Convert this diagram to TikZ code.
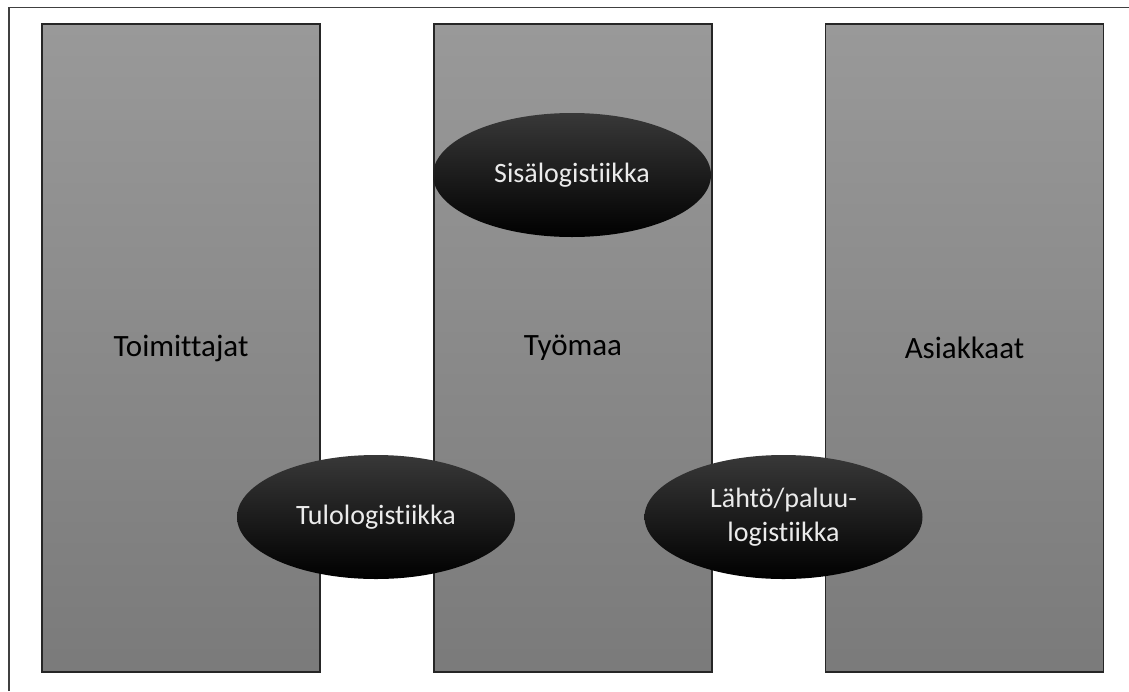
\documentclass[tikz,border=0pt]{standalone}
\usepackage{fontspec}
\setmainfont[Ligatures=NoCommon]{Carlito}
\usetikzlibrary{shapes.geometric}
\begin{document}
\begin{tikzpicture}[x=1pt,y=-1pt,
  column/.style={draw=black!85,line width=1.6pt,top color=black!40,bottom color=black!52,
    minimum width=278pt,minimum height=648pt,inner sep=0pt,font=\fontsize{31}{37}\selectfont},
  flow/.style={ellipse,shading=axis,top color=black!78,middle color=black,bottom color=black,
    minimum width=278pt,minimum height=124pt,inner sep=0pt,text=black!8,align=center,
    font=\fontsize{28}{34}\selectfont}]
\useasboundingbox (0,0) rectangle (1129,691);
%\draw[step=50pt,gray,very thin] (0,0) grid (1129,691); %background grid
\draw[black!75,line width=1.5pt] (9,691) -- (9,7.5) -- (1129,7.5); %frame
\node[column] (toim) at (181,348) {Toimittajat};
\node[column] (tyom) at (573,348) {Työmaa};
\node[column] (asiak) at (964.5,348) {Asiakkaat};
\node[flow] (sisa) at (572,175) {Sisälogistiikka};
\node[flow] (tulo) at (376,517) {Tulologistiikka};
\node[flow] (lahto) at (783.5,517) {Lähtö/paluu-\\logistiikka};
\end{tikzpicture}
\end{document}
